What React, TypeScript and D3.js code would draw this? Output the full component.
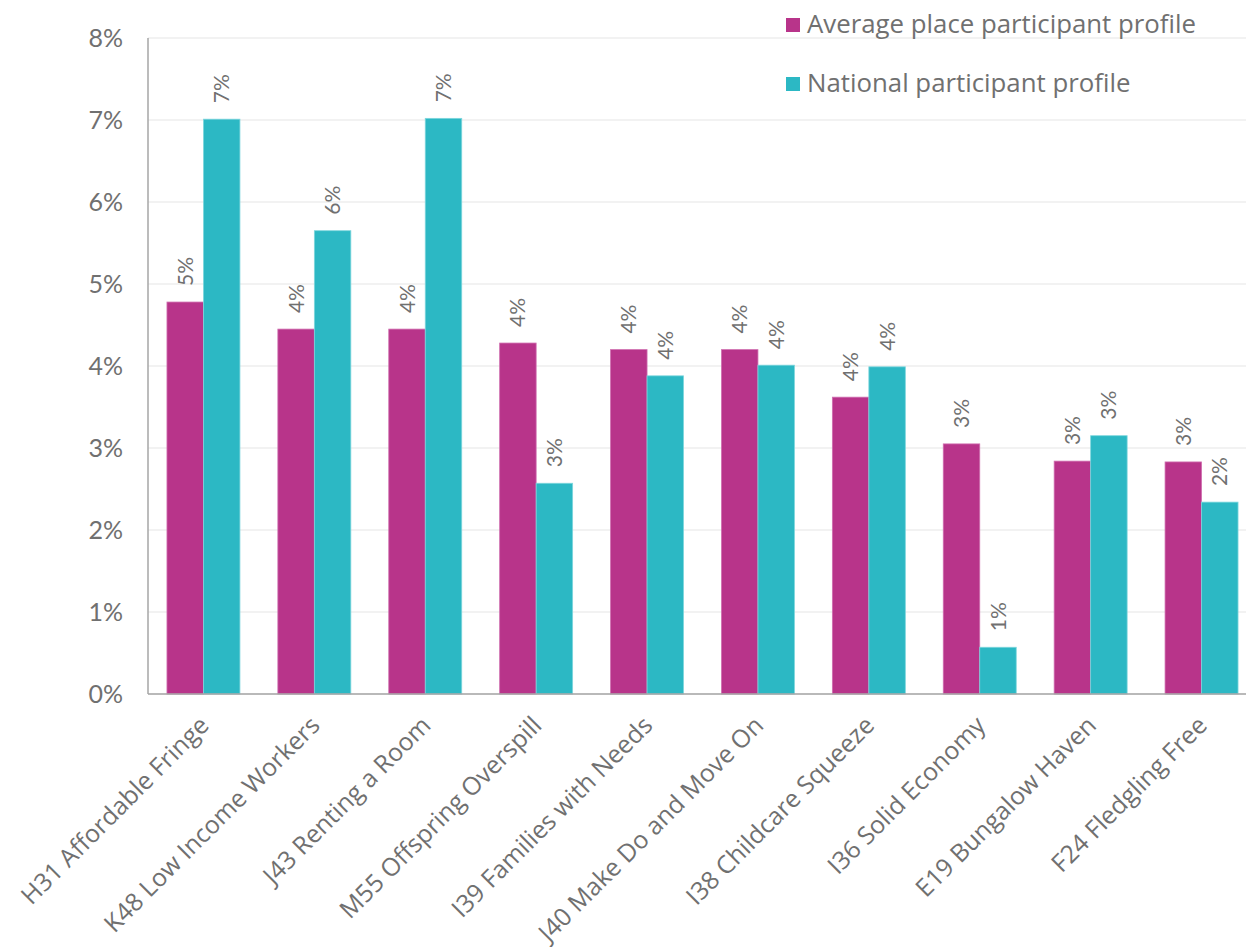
import React from "react";
import * as d3 from "d3";

const categories = [
  "H31 Affordable Fringe",
  "K48 Low Income Workers",
  "J43 Renting a Room",
  "M55 Offspring Overspill",
  "I39 Families with Needs",
  "J40 Make Do and Move On",
  "I38 Childcare Squeeze",
  "I36 Solid Economy",
  "E19 Bungalow Haven",
  "F24 Fledgling Free",
];
const seriesNames = ["Average place participant profile", "National participant profile"];
const averagePlace = [4.78, 4.45, 4.45, 4.28, 4.2, 4.2, 3.62, 3.05, 2.84, 2.83];
const national = [7.01, 5.65, 7.02, 2.57, 3.88, 4.01, 3.99, 0.57, 3.15, 2.34];
const yTicks = [0, 1, 2, 3, 4, 5, 6, 7, 8];

const W = 1246;
const H = 947;
const colors = ["#B8348A", "#2CB8C4"];
const strokes = ["#CF6FB0", "#7ED6DD"];
const textColor = "#707070";
const narrowFont = "'Lato', sans-serif";

export default function App() {
  const x0 = d3.scaleBand<string>().domain(categories).range([148, 1257]).paddingInner(0.342).paddingOuter(0.171);
  const x1 = d3.scaleBand<number>().domain([0, 1]).range([0, x0.bandwidth()]);
  const y = d3.scaleLinear().domain([0, 8]).range([694, 38]);
  const series = [averagePlace, national];
  const fmt = (v: number) => d3.format(".0%")(Math.round(v) / 100);

  return (
    <svg width={W} height={H} style={{ position: "absolute", left: 0, top: 0, background: "#fff" }}>
      {yTicks.map((t) => (
        <line key={"g" + t} x1={148} x2={W} y1={y(t)} y2={y(t)} stroke="#EEEEEE" strokeWidth={1.5} />
      ))}
      {yTicks.map((t) => (
        <text
          key={"t" + t}
          x={123}
          y={y(t)}
          dy="0.36em"
          textAnchor="end"
          fontFamily={narrowFont}
          fontSize={25}
          fill={textColor}
        >
          {t + "%"}
        </text>
      ))}
      {categories.map((c, i) => (
        <g key={c} transform={`translate(${x0(c)},0)`}>
          {series.map((s, k) => (
            <rect
              key={k}
              x={x1(k)}
              y={y(s[i])}
              width={x1.bandwidth()}
              height={y(0) - y(s[i])}
              fill={colors[k]}
              stroke={strokes[k]}
              strokeWidth={0.8}
            />
          ))}
          {series.map((s, k) => (
            <text
              key={"l" + k}
              transform={`translate(${(x1(k) as number) + x1.bandwidth() / 2},${y(s[i]) - 16}) rotate(-90)`}
              dy="0.36em"
              textAnchor="start"
              fontFamily={narrowFont}
              fontSize={21}
              fill={textColor}
            >
              {fmt(s[i])}
            </text>
          ))}
        </g>
      ))}
      <line x1={148} x2={148} y1={38} y2={694} stroke="#A6A6A6" strokeWidth={1.5} />
      <line x1={148} x2={W} y1={694} y2={694} stroke="#A6A6A6" strokeWidth={1.5} />
      {categories.map((c) => (
        <text
          key={"x" + c}
          transform={`translate(${(x0(c) as number) + x0.bandwidth() / 2 + 7},${727}) rotate(-45)`}
          textAnchor="end"
          fontFamily="'Open Sans', sans-serif"
          fontSize={24.8}
          fill={textColor}
        >
          {c}
        </text>
      ))}
      {seriesNames.map((n, k) => (
        <g key={n} transform={`translate(786,${18 + k * 59})`}>
          <rect x={0} y={0} width={14} height={14} fill={colors[k]} />
          <text x={21} y={15} fontFamily="'Open Sans', sans-serif" fontSize={25.8} fill={textColor}>
            {n}
          </text>
        </g>
      ))}
    </svg>
  );
}
